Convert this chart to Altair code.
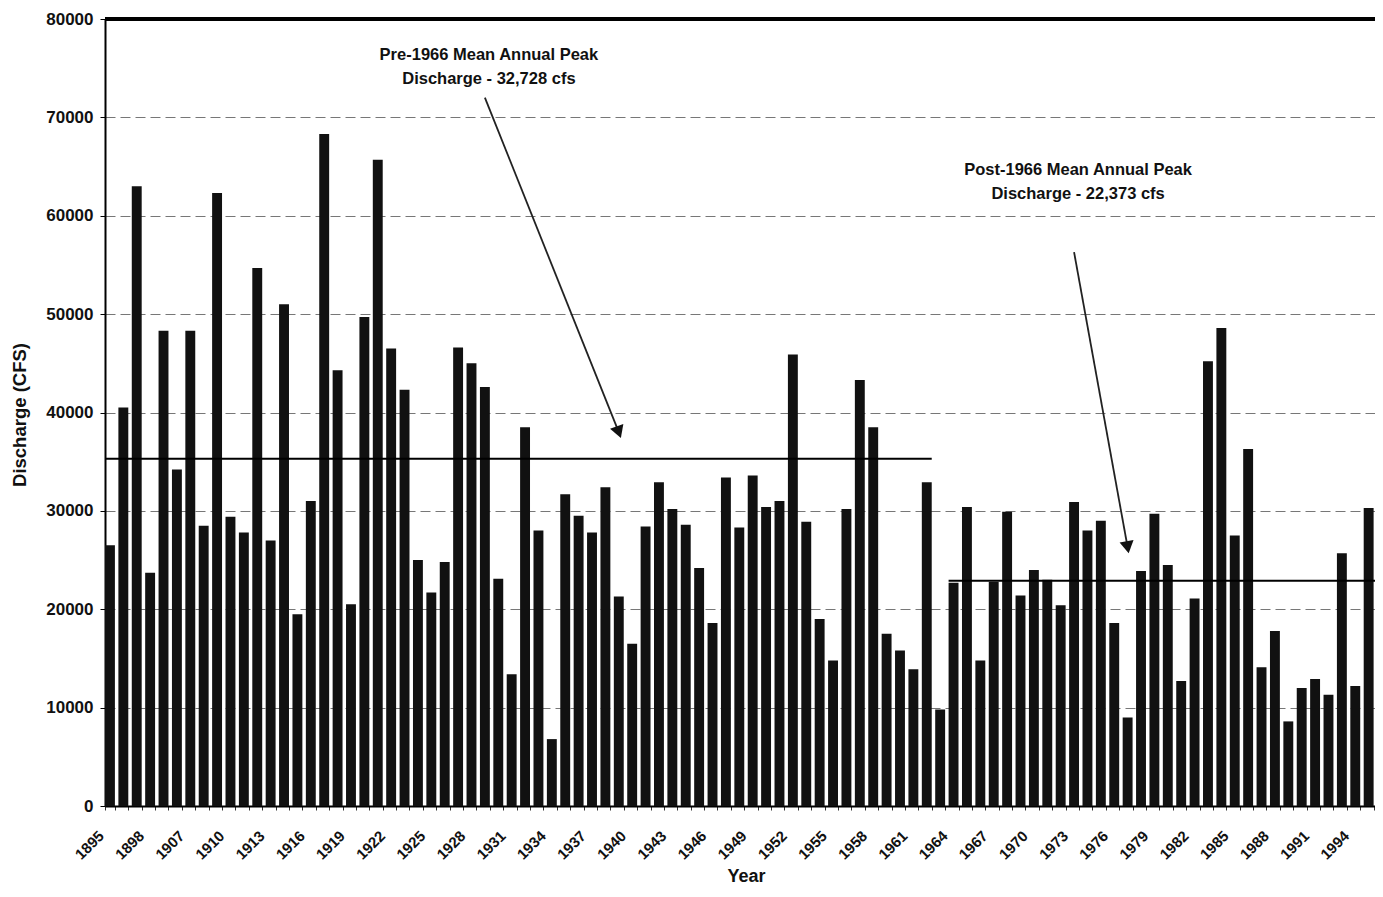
import json
import altair as alt
import pandas as pd

# ---- data ----
years = [
    "1895", "1896", "1897", "1898", "1899", "1906",
    "1907", "1908", "1909", "1910", "1911", "1912", "1913", "1914", "1915", "1916",
    "1917", "1918", "1919", "1920", "1921", "1922", "1923", "1924", "1925", "1926",
    "1927", "1928", "1929", "1930", "1931", "1932", "1933", "1934", "1935", "1936",
    "1937", "1938", "1939", "1940", "1941", "1942", "1943", "1944", "1945", "1946",
    "1947", "1948", "1949", "1950", "1951", "1952", "1953", "1954", "1955", "1956",
    "1957", "1958", "1959", "1960", "1961", "1962", "1963", "1964", "1965", "1966",
    "1967", "1968", "1969", "1970", "1971", "1972", "1973", "1974", "1975", "1976",
    "1977", "1978", "1979", "1980", "1981", "1982", "1983", "1984", "1985", "1986",
    "1987", "1988", "1989", "1990", "1991", "1992", "1993", "1994", "1995", "1996",
]

peaks = [
    26500, 40500, 63000, 23700, 48300, 34200, 48300, 28500, 62300, 29400,
    27800, 54700, 27000, 51000, 19500, 31000, 68300, 44300, 20500, 49700,
    65700, 46500, 42300, 25000, 21700, 24800, 46600, 45000, 42600, 23100,
    13400, 38500, 28000, 6800, 31700, 29500, 27800, 32400, 21300, 16500,
    28400, 32900, 30200, 28600, 24200, 18600, 33400, 28300, 33600, 30400,
    31000, 45900, 28900, 19000, 14800, 30200, 43300, 38500, 17500, 15800,
    13900, 32900, 9800, 22700, 30400, 14800, 22800, 29900, 21400, 24000,
    23000, 20400, 30900, 28000, 29000, 18600, 9000, 23900, 29700, 24500,
    12700, 21100, 45200, 48600, 27500, 36300, 14100, 17800, 8600, 12000,
    12900, 11300, 25700, 12200, 30300, 24400,
]

tick_labels = [
    "1895", "1898", "1907", "1910", "1913", "1916", "1919", "1922", "1925",
    "1928", "1931", "1934", "1937", "1940", "1943", "1946", "1949", "1952",
    "1955", "1958", "1961", "1964", "1967", "1970", "1973", "1976", "1979",
    "1982", "1985", "1988", "1991", "1994",
]

y_ticks = [0, 10000, 20000, 30000, 40000, 50000, 60000, 70000, 80000]

# mean lines (as drawn on the picture)
mean_start = ["1895", "1964"]
mean_end = ["1962", "1996"]
mean_level = [35300, 22900]

# annotation texts
note_text = [
    "Pre-1966 Mean Annual Peak", "Discharge - 32,728 cfs",
    "Post-1966 Mean Annual Peak", "Discharge - 22,373 cfs",
]
note_year = ["1929", "1929", "1973", "1973"]
note_value = [76300, 73900, 64600, 62200]

# arrows
arrow_from_year = ["1929", "1973"]
arrow_from_value = [72000, 56300]
arrow_to_year = ["1939", "1977"]
arrow_to_value = [38000, 26300]
arrow_angle = [340, 350]

# ---- tables ----
df = pd.DataFrame({"year": years, "peak": peaks})
means = pd.DataFrame({"start": mean_start, "end": mean_end, "level": mean_level})
notes = pd.DataFrame({"text": note_text, "year": note_year, "value": note_value})
arrows = pd.DataFrame({
    "y0": arrow_from_year, "v0": arrow_from_value,
    "y1": arrow_to_year, "v1": arrow_to_value, "ang": arrow_angle,
})

PLOT_W = 1270
FULL_RANGE = 1282
PLOT_H = 787
FONT = "Liberation Sans"

xscale = alt.Scale(domain=years, range=[0, FULL_RANGE], paddingInner=0.26, paddingOuter=0)
yscale = alt.Scale(domain=[0, 80000], nice=False)

label_expr = (
    "indexof(" + json.dumps(tick_labels).replace('"', "'") + ", datum.value) >= 0 ? datum.label : ''"
)

x_axis = alt.Axis(
    title="Year", titleFont=FONT, titleFontSize=18, titleFontWeight="bold",
    titleColor="#111", titleY=70, titleBaseline="middle",
    labelExpr=label_expr, labelAngle=-45, labelFont=FONT, labelFontSize=15,
    labelFontWeight="bold", labelColor="#111", labelPadding=18, labelOffset=-14,
    labelOverlap=False, labelBound=False,
    tickBand="extent", tickSize=4, tickColor="#333",
    domainColor="#000", domainWidth=2, grid=False,
)
y_axis = alt.Axis(
    title="Discharge (CFS)", titleFont=FONT, titleFontSize=18.5, titleFontWeight="bold",
    titleColor="#111", titleX=-86, titleY=PLOT_H / 2 + 2, titleAngle=-90,
    titleAlign="center", titleBaseline="middle",
    values=y_ticks, format="d", labelFont=FONT, labelFontSize=17,
    labelFontWeight="bold", labelColor="#111", labelPadding=7,
    tickSize=5, tickColor="#000", domainColor="#000", domainWidth=2,
    grid=True, gridColor="#777", gridDash=[10, 5], gridWidth=1,
)

bars = alt.Chart(df).mark_bar(color="#111").encode(
    x=alt.X("year:N", scale=xscale, axis=x_axis, sort=years),
    y=alt.Y("peak:Q", scale=yscale, axis=y_axis),
)

top_border = alt.Chart(df).mark_rule(color="#000", strokeWidth=2.5).encode(
    x=alt.X(datum=years[0], bandPosition=0, scale=xscale, type="nominal"),
    x2=alt.X2(datum=years[-1], bandPosition=1),
    y=alt.Y(datum=80000, type="quantitative", scale=yscale),
)

mean_rules = alt.Chart(means).mark_rule(color="#000", strokeWidth=2).encode(
    x=alt.X("start:N", bandPosition=0, scale=xscale, sort=years),
    x2=alt.X2("end:N", bandPosition=1),
    y=alt.Y("level:Q", scale=yscale),
)

note_marks = alt.Chart(notes).mark_text(
    font=FONT, fontSize=16.5, fontWeight="bold", color="#111", dx=4, baseline="middle"
).encode(
    x=alt.X("year:N", scale=xscale, sort=years),
    y=alt.Y("value:Q", scale=yscale),
    text="text:N",
)

arrow_lines = alt.Chart(arrows).mark_rule(color="#222", strokeWidth=1.8).encode(
    x=alt.X("y0:N", scale=xscale, sort=years),
    x2=alt.X2("y1:N"),
    y=alt.Y("v0:Q", scale=yscale),
    y2=alt.Y2("v1:Q"),
)

arrow_heads = alt.Chart(arrows).mark_point(
    shape="triangle-down", filled=True, color="#111", size=200, opacity=1
).encode(
    x=alt.X("y1:N", scale=xscale, sort=years),
    y=alt.Y("v1:Q", scale=yscale),
    angle=alt.Angle("ang:Q", scale=None),
)

chart = alt.layer(
    bars, mean_rules, top_border, arrow_lines, arrow_heads, note_marks
).properties(
    width=PLOT_W,
    height=PLOT_H,
    autosize=alt.AutoSizeParams(type="none"),
    padding={"left": 97, "top": 11, "right": 0, "bottom": 79},
    background="white",
).configure_view(stroke=None)

chart.save("out.html", embed_options={"renderer": "svg", "actions": False})
